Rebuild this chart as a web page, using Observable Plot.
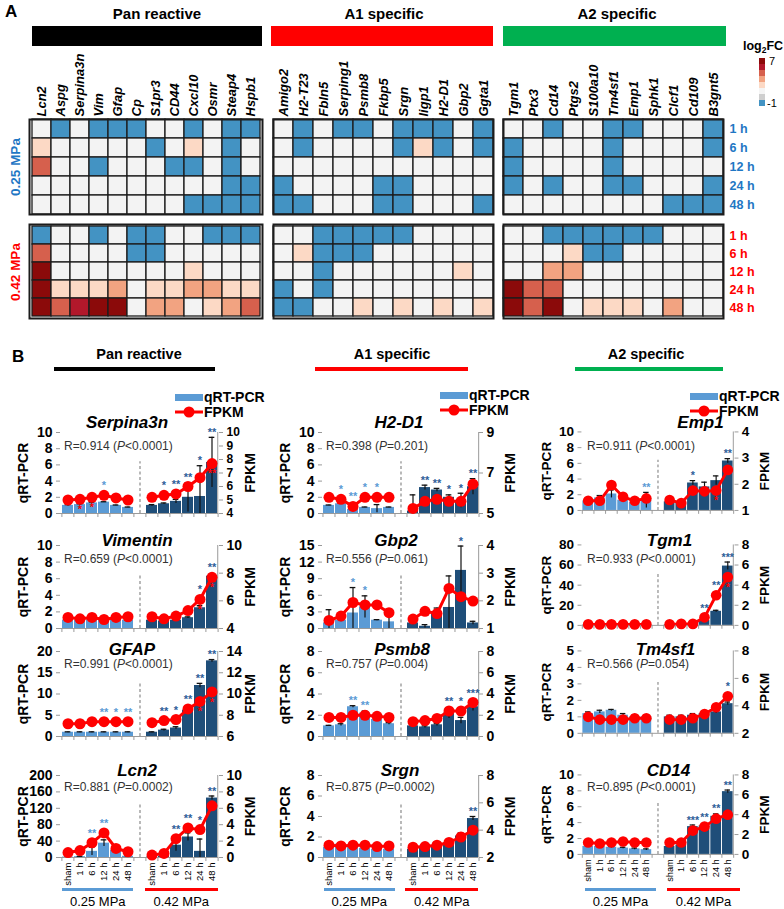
<!DOCTYPE html>
<html><head><meta charset="utf-8">
<script src="https://cdn.jsdelivr.net/npm/d3@7"></script>
<script src="https://cdn.jsdelivr.net/npm/@observablehq/plot@0.6"></script>
<style>
body{margin:0;background:#fff;font-family:"Liberation Sans",Arial,sans-serif}
#fig{position:relative;width:784px;height:909px;overflow:hidden;background:#fff}
#fig svg{overflow:visible}
.hm [aria-label="x-axis tick label"] text{font-size:13px;font-weight:bold;font-style:italic}
.hm [aria-label="y-axis tick label"] text{font-size:12.5px;font-weight:bold}
.bsub [aria-label="y-axis tick label"] text{font-weight:bold}
.bsub [aria-label="y-axis label"] text{font-size:14px;font-weight:bold}
.bsub [aria-label="x-axis tick label"] text{font-size:9.5px}
</style></head><body><div id="fig"></div>
<script>
// ---------- Panel A data ----------
const times = ["1 h","6 h","12 h","24 h","48 h"];
const panGenes = ["Lcn2","Aspg","Serpina3n","Vim","Gfap","Cp","S1pr3","CD44","Cxcl10","Osmr","Steap4","Hspb1"];
const a1Genes = ["Amigo2","H2-T23","Fbln5","Serping1","Psmb8","Fkbp5","Srgn","Iigp1","H2-D1","Gbp2","Ggta1"];
const a2Genes = ["Tgm1","Ptx3","Cd14","Ptgs2","S100a10","Tm4sf1","Emp1","Sphk1","Clcf1","Cd109","B3gnt5"];
const pan025 = [
 [0,-1,0,-1,-1,-1,0,0,-1,0,-1,-1],
 [1,0,0,0,0,0,-1,0,1,0,-1,0],
 [3,0,0,-1,0,0,0,-1,-1,0,-1,0],
 [0,0,0,0,0,0,0,0,0,0,-1,-1],
 [0,0,0,0,0,0,0,0,-1,-1,-1,-1]];
const pan042 = [
 [-1,0,0,-1,0,-1,-1,0,0,-1,-1,-1],
 [3,0,0,0,0,-1,-1,0,0,0,0,0],
 [7,0,0,0,0,0,0,0,1,0,0,0],
 [7,1,1,1,2,0,1,1,2,2,1,1],
 [7,3,5,7,7,0,2,2,0,1,2,3]];
const a1_025 = [
 [0,-1,0,-1,-1,0,-1,-1,-1,0,-1],
 [0,-1,0,0,0,0,-1,1,-1,0,-1],
 [0,0,0,0,0,0,0,0,0,0,0],
 [-1,0,0,0,0,-1,-1,0,0,0,0],
 [-1,-1,0,0,0,-1,-1,0,0,0,-1]];
const a1_042 = [
 [0,0,-1,-1,-1,-1,-1,0,0,0,0],
 [0,1,-1,-1,-1,0,0,0,0,0,0],
 [0,0,-1,0,0,0,0,0,0,1,0],
 [-1,0,-1,0,0,0,0,0,0,0,0],
 [-1,-1,0,0,1,0,1,0,1,0,1]];
const a2_025 = [
 [0,0,-1,0,0,-1,-1,0,0,0,-1],
 [-1,0,0,0,0,-1,0,0,0,0,-1],
 [-1,0,0,0,0,-1,0,0,0,0,0],
 [-1,0,-1,0,0,-1,-1,0,0,0,-1],
 [0,0,0,0,0,0,0,0,-1,-1,-1]];
const a2_042 = [
 [0,0,-1,-1,-1,-1,-1,-1,0,0,0],
 [0,0,0,1,-1,-1,0,0,0,0,0],
 [0,0,2,2,0,0,0,0,0,0,0],
 [7,3,3,0,0,0,0,0,0,0,0],
 [7,3,7,0,1,1,1,0,2,0,0]];
const heatColors = {"-1":"#4393c3","0":"#f3f3f3","1":"#fcd9c5","2":"#f2a381","3":"#d6604d","5":"#b2182b","7":"#8b0a0a"};
const legendLevels = ["7","5","3","2","1","0","-0.5","-1"];
const legendColors = {"7":"#8b0a0a","5":"#b2182b","3":"#d6604d","2":"#f2a381","1":"#fcd9c5","0":"#f5f5f5","-0.5":"#cfcfcf","-1":"#4393c3"};

// ---------- Panel B data ----------
const timeLabels = ["sham","1 h","6 h","12 h","24 h","48 h"];
const serpina3n_q = [1.0,1.1,1.3,1.4,1.0,0.75, 1.0,1.2,1.5,2.0,2.1,6.3];
const serpina3n_e = [0.1,0.1,0.1,0.05,0.05,0.05, 0.1,0.1,0.25,1.8,3.8,3.1];
const serpina3n_f = [5.0,5.05,5.2,5.35,5.15,5.0, 5.2,5.35,5.45,6.0,6.65,7.7];
const serpina3n_qs = ["","","","*","","", "","*","**","**","*","**"];
const serpina3n_fs = ["","*","*","","","", "","","","","","**"];
const vimentin_q = [1.0,1.0,1.05,1.0,1.0,1.0, 1.0,0.9,1.0,1.3,2.5,6.3];
const vimentin_e = [0.05,0.05,0.05,0.05,0.05,0.05, 0.05,0.05,0.05,0.1,0.25,0.3];
const vimentin_f = [4.8,4.7,4.8,4.65,4.8,4.85, 4.85,4.7,4.9,5.3,6.1,7.7];
const vimentin_qs = ["","","","","","", "","","","","*","**"];
const vimentin_fs = ["","","","","","", "","","","","*","*"];
const gfap_q = [1.0,1.0,1.0,1.0,1.0,1.0, 1.0,1.5,2.0,6.2,12.0,17.8];
const gfap_e = [0.1,0.1,0.1,0.1,0.1,0.1, 0.1,0.2,0.3,0.4,0.5,0.3];
const gfap_f = [7.2,7.2,7.4,7.4,7.4,7.4, 7.3,7.5,7.6,8.6,9.3,10.2];
const gfap_qs = ["","","","**","*","**", "","**","*","**","**","**"];
const gfap_fs = ["","","","","","", "","","","","*","*"];
const lcn2_q = [1,2,15,35,18,3, 1,3,30,50,15,145];
const lcn2_e = [1,1,10,8,5,1, 1,1,15,10,30,5];
const lcn2_f = [0.6,0.85,1.8,3.0,1.1,0.7, 0.3,0.5,2.3,3.6,3.4,6.3];
const lcn2_qs = ["","","**","**","","", "","","**","**","*","**"];
const lcn2_fs = ["","","","","","", "","","","","",""];
const h2d1_q = [1.0,1.2,0.5,0.75,0.6,0.75, 0.3,3.2,2.9,2.0,1.6,3.3];
const h2d1_e = [0.05,0.1,0.1,0.05,0.5,0.05, 2.0,0.3,0.2,0.3,0.9,1.0];
const h2d1_f = [5.8,5.7,5.35,5.8,5.8,5.8, 5.25,5.6,5.7,5.6,5.6,6.45];
const h2d1_qs = ["","*","**","*","*","", "","**","**","*","*","**"];
const h2d1_fs = ["","","","","","", "","","","","",""];
const gbp2_q = [1.0,1.5,2.8,3.9,1.5,1.2, 1.0,0.4,3.0,3.8,10.5,1.0];
const gbp2_e = [2.4,0.3,4.6,2.0,0.1,2.3, 0.3,0.3,0.7,5.7,4.4,0.3];
const gbp2_f = [1.29,1.45,1.94,1.85,1.85,1.57, 1.34,1.62,1.54,2.45,2.15,1.99];
const gbp2_qs = ["","","*","*","","", "","","","","*",""];
const gbp2_fs = ["","","","","","", "","","","","",""];
const psmb8_q = [1.0,1.1,2.8,2.2,1.6,1.2, 1.0,0.9,1.1,2.2,1.5,2.8];
const psmb8_e = [0.05,0.1,0.1,0.2,0.1,0.1, 0.1,0.1,0.1,0.5,0.3,0.4];
const psmb8_f = [1.8,1.8,2.0,2.0,1.9,1.8, 1.4,1.5,1.7,2.4,2.4,3.2];
const psmb8_qs = ["","","**","**","","", "","","","**","*","***"];
const psmb8_fs = ["","","","","","", "","","","","",""];
const srgn_q = [1.0,1.3,1.1,0.9,0.8,0.8, 0.8,0.9,1.1,1.4,2.1,3.8];
const srgn_e = [0.05,0.1,0.1,0.1,0.05,0.05, 0.2,0.1,0.1,0.2,0.3,0.2];
const srgn_f = [2.9,2.85,2.9,2.9,2.8,2.85, 2.75,2.8,2.9,3.1,3.5,4.0];
const srgn_qs = ["","","","","","", "","","","","","**"];
const srgn_fs = ["","","","","","", "","","","","",""];
const emp1_q = [1.2,1.6,2.1,1.3,1.0,1.3, 1.1,1.0,3.5,3.0,3.8,6.3];
const emp1_e = [0.1,0.3,0.5,0.2,0.1,1.0, 0.2,0.1,0.3,0.6,0.6,0.3];
const emp1_f = [1.37,1.37,1.97,1.52,1.37,1.46, 1.40,1.28,1.76,1.73,1.76,2.55];
const emp1_qs = ["","","","","","**", "","","*","","","**"];
const emp1_fs = ["","","","","","", "","","","","*",""];
const tgm1_q = [0.5,0.5,0.5,0.5,0.5,0.5, 0.5,0.5,0.5,5,14,59];
const tgm1_e = [0,0,0,0,0,0, 0,0,0,1,1,4];
const tgm1_f = [0.1,0.1,0.1,0.1,0.1,0.1, 0.1,0.15,0.15,0.8,3.0,4.8];
const tgm1_qs = ["","","","","","", "","","","**","**","***"];
const tgm1_fs = ["","","","","","", "","","","","","*"];
const tm4sf1_q = [1.2,1.3,1.4,1.1,1.0,1.0, 1.0,1.0,1.1,1.2,1.3,1.8];
const tm4sf1_e = [0.1,0.1,0.05,0.1,0.1,0.1, 0.1,0.1,0.1,0.1,0.1,0.1];
const tm4sf1_f = [3.2,3.0,3.0,3.0,3.1,3.1, 3.0,3.0,3.1,3.4,3.9,4.7];
const tm4sf1_qs = ["","","","","","", "","","","","","*"];
const tm4sf1_fs = ["","","","","","", "","","","","",""];
const cd14_q = [1.0,1.0,0.9,0.8,0.7,0.6, 1.0,1.2,3.5,3.6,4.8,7.9];
const cd14_e = [0.1,0.1,0.1,0.1,0.1,0.1, 0.1,0.1,0.2,0.2,0.3,0.2];
const cd14_f = [1.2,1.1,1.2,1.3,1.2,1.2, 1.2,1.2,2.4,2.8,3.6,4.0];
const cd14_qs = ["","","","","","", "","","***","**","**","**"];
const cd14_fs = ["","","","","","", "","","","","",""];

const geneNames = ["Serpina3n","Vimentin","GFAP","Lcn2","H2-D1","Gbp2","Psmb8","Srgn","Emp1","Tgm1","Tm4sf1","CD14"];
const rValues = ["0.914","0.659","0.991","0.881","0.398","0.556","0.757","0.875","0.911","0.933","0.566","0.895"];
const pValues = ["<0.0001","<0.0001","<0.0001","=0.0002","=0.201","=0.061","=0.004","=0.0002","<0.0001","<0.0001","=0.054","<0.0001"];
const qTickSets = [[0,2,4,6,8,10],[0,2,4,6,8,10],[0,5,10,15,20],[0,40,80,120,160,200],
  [0,2,4,6,8,10],[0,3,6,9,12,15],[0,2,4,6,8],[0,2,4,6,8],
  [0,2,4,6,8,10],[0,20,40,60,80],[0,1,2,3,4,5],[0,2,4,6,8,10]];
const fTickSets = [[4,5,6,7,8,9,10],[4,6,8,10],[6,8,10,12,14],[0,2,4,6,8,10],
  [5,7,9],[1,2,3,4],[0,2,4,6,8],[2,4,6,8],
  [1,2,3,4],[0,2,4,6,8],[2,4,6,8],[0,2,4,6,8]];

const genesB = [
 {q:serpina3n_q,e:serpina3n_e,f:serpina3n_f,qs:serpina3n_qs,fs:serpina3n_fs},
 {q:vimentin_q,e:vimentin_e,f:vimentin_f,qs:vimentin_qs,fs:vimentin_fs},
 {q:gfap_q,e:gfap_e,f:gfap_f,qs:gfap_qs,fs:gfap_fs},
 {q:lcn2_q,e:lcn2_e,f:lcn2_f,qs:lcn2_qs,fs:lcn2_fs},
 {q:h2d1_q,e:h2d1_e,f:h2d1_f,qs:h2d1_qs,fs:h2d1_fs},
 {q:gbp2_q,e:gbp2_e,f:gbp2_f,qs:gbp2_qs,fs:gbp2_fs},
 {q:psmb8_q,e:psmb8_e,f:psmb8_f,qs:psmb8_qs,fs:psmb8_fs},
 {q:srgn_q,e:srgn_e,f:srgn_f,qs:srgn_qs,fs:srgn_fs},
 {q:emp1_q,e:emp1_e,f:emp1_f,qs:emp1_qs,fs:emp1_fs},
 {q:tgm1_q,e:tgm1_e,f:tgm1_f,qs:tgm1_qs,fs:tgm1_fs},
 {q:tm4sf1_q,e:tm4sf1_e,f:tm4sf1_f,qs:tm4sf1_qs,fs:tm4sf1_fs},
 {q:cd14_q,e:cd14_e,f:cd14_f,qs:cd14_qs,fs:cd14_fs}
].map((g,i)=>({...g, name:geneNames[i], r:rValues[i], p:pValues[i], qTicks:qTickSets[i], fTicks:fTickSets[i]}));

// ---------- layout ----------
const fig = document.getElementById("fig");
const FONT = "Liberation Sans, Arial, sans-serif";
const BLUE = "#1f77c4", RED = "#ff0000";
function put(node, x, y, cls) {
  const w = document.createElement("div");
  if (cls) w.className = cls;
  w.style.cssText = `position:absolute;left:${x}px;top:${y}px`;
  w.appendChild(node); fig.appendChild(w); return w;
}
function txt(html, x, y, css, anchor) {
  const d = document.createElement("div");
  d.innerHTML = html;
  const tr = anchor === "l" ? "translate(0,-50%)" : anchor === "r" ? "translate(-100%,-50%)" :
             anchor === "rot" ? "translate(-50%,-50%) rotate(-90deg)" : "translate(-50%,-50%)";
  d.style.cssText = `position:absolute;left:${x}px;top:${y}px;white-space:nowrap;line-height:1;transform:${tr};` + css;
  fig.appendChild(d); return d;
}
function box(x, y, w, h, color) {
  const d = document.createElement("div");
  d.style.cssText = `position:absolute;left:${x}px;top:${y}px;width:${w}px;height:${h}px;background:${color}`;
  fig.appendChild(d);
}

// ---------- Panel A ----------
txt("A", 5, 11, "font-weight:bold;font-size:17px", "l");
txt("Pan reactive", 157, 13, "font-weight:bold;font-size:15px");
txt("A1 specific", 384, 13, "font-weight:bold;font-size:15px");
txt("A2 specific", 617, 13, "font-weight:bold;font-size:15px");
box(32, 26, 230, 20, "#000");
box(271, 26, 222, 20, "#ff0000");
box(503, 26, 223, 20, "#00b050");

function heat(genes, matrix, o) {
  const data = matrix.flatMap((row, ti) => row.map((v, gi) => ({gene: genes[gi], time: times[ti], v})));
  const mT = o.showGenes ? 84 : 2, mR = o.showTimes ? 52 : 2, mL = 2, mB = 2;
  const marks = [
    Plot.cell(data, {x: "gene", y: "time", fill: d => heatColors[d.v], stroke: "#1c1c1c", strokeWidth: 1.3}),
    Plot.frame({stroke: "#1c1c1c", strokeWidth: 2})
  ];
  if (o.showGenes) marks.push(Plot.axisX({anchor: "top", tickRotate: -90, tickSize: 0, tickPadding: 3, label: null}));
  if (o.showTimes) marks.push(Plot.axisY({anchor: "right", tickSize: 0, tickPadding: 6, label: null, color: o.timeColor}));
  const svg = Plot.plot({
    width: mL + o.width + mR, height: mT + o.height + mB,
    marginLeft: mL, marginRight: mR, marginTop: mT, marginBottom: mB,
    x: {domain: genes, padding: 0, axis: null}, y: {domain: times, padding: 0, axis: null},
    style: {fontFamily: FONT, background: "transparent", color: "#000"},
    marks
  });
  put(svg, o.left - mL, o.top - mT, "hm");
}
const hTop1 = 119, hTop2 = 224, hH1 = 95, hH2 = 94;
heat(panGenes, pan025, {left: 29, top: hTop1, width: 233, height: hH1, showGenes: true});
heat(panGenes, pan042, {left: 29, top: hTop2, width: 233, height: hH2});
heat(a1Genes, a1_025, {left: 273, top: hTop1, width: 220, height: hH1, showGenes: true});
heat(a1Genes, a1_042, {left: 273, top: hTop2, width: 220, height: hH2});
heat(a2Genes, a2_025, {left: 503, top: hTop1, width: 220, height: hH1, showGenes: true, showTimes: true, timeColor: BLUE});
heat(a2Genes, a2_042, {left: 503, top: hTop2, width: 220, height: hH2, showTimes: true, timeColor: RED});
txt("0.25 MPa", 16, 167, `font-weight:bold;font-size:13.5px;color:${BLUE}`, "rot");
txt("0.42 MPa", 16, 272, `font-weight:bold;font-size:13.5px;color:${RED}`, "rot");

// colour legend
txt("log<sub style='font-size:8.5px'>2</sub>FC", 743, 47, "font-weight:bold;font-size:12.5px", "l");
put(Plot.plot({
  width: 8, height: 50, margin: 0,
  x: {axis: null}, y: {domain: legendLevels, padding: 0, axis: null},
  style: {background: "transparent"},
  marks: [Plot.cell(legendLevels, {x: () => 0, y: d => d, fill: d => legendColors[d]})]
}), 758, 57);
txt("7", 769, 61, "font-size:11px", "l");
txt("-1", 767, 103, "font-size:11px", "l");

// ---------- Panel B ----------
txt("B", 12, 356, "font-weight:bold;font-size:17px", "l");
txt("Pan reactive", 139, 354, "font-weight:bold;font-size:14.5px");
txt("A1 specific", 392, 354, "font-weight:bold;font-size:14.5px");
txt("A2 specific", 646, 354, "font-weight:bold;font-size:14.5px");
box(54, 367, 161, 3.5, "#000");
box(315, 367, 153, 3.5, "#ff0000");
box(575, 367, 148, 3.5, "#00b050");

function legendB(x, y) {
  const d = document.createElement("div");
  d.style.cssText = `position:absolute;left:${x}px;top:${y - 8}px;width:100px;height:34px`;
  d.innerHTML = `<svg width="30" height="32" style="position:absolute;left:0;top:0">
    <rect x="0" y="5" width="28" height="7" fill="#5b9bd5"/>
    <line x1="0" y1="23" x2="28" y2="23" stroke="#ff0000" stroke-width="3"/>
    <circle cx="14" cy="23" r="5.5" fill="#ff0000"/></svg>
    <div style="position:absolute;left:29px;top:1px;font-weight:bold;font-size:14px;line-height:1">qRT-PCR</div>
    <div style="position:absolute;left:29px;top:16px;font-weight:bold;font-size:14px;line-height:1">FPKM</div>`;
  fig.appendChild(d);
}
legendB(175, 397); legendB(440, 395); legendB(690, 396);

const colsB = [{left: 60, width: 158}, {left: 322, width: 156}, {left: 583, width: 157}];
const rowsB = [{top: 432, bottom: 513, tdy: -10, rdy: 14}, {top: 545, bottom: 628, tdy: -5, rdy: 14},
               {top: 651, bottom: 736, tdy: -2, rdy: 13}, {top: 775, bottom: 857, tdy: -5, rdy: 12}];
const titleDx = [-12, -2, -7, -2, -1, -4, 2, 0, 39, 8, 4, 7];
const keys = ["L0","L1","L2","L3","L4","L5","G","R0","R1","R2","R3","R4","R5"];
const barKeys = keys.filter(k => k !== "G");
const qColorL = "#5b9bd5", qColorR = "#1f4e79", starL = "#5b9bd5", starR = "#2e6099";

function subplot(g, idx) {
  const ci = Math.floor(idx / 4), ri = idx % 4;
  const col = colsB[ci], row = rowsB[ri];
  const W = col.width, H = row.bottom - row.top;
  const isBottom = ri === 3;
  const mL = 52, mR = 52, mT = 18, mB = isBottom ? 36 : 8;
  const qmax = g.qTicks[g.qTicks.length - 1];
  const fmin = g.fTicks[0], fmax = g.fTicks[g.fTicks.length - 1];
  const toQ = f => (f - fmin) / (fmax - fmin) * qmax;
  const toF = v => fmin + v / qmax * (fmax - fmin);
  const u = qmax / H;
  const data = barKeys.map((k, i) => ({key: k, group: i < 6 ? "L" : "R", q: g.q[i], e: g.e[i], fq: toQ(g.f[i]), qs: g.qs[i], fs: g.fs[i]}));
  const pi = 0.12, po = 0.03;
  const step = W / (keys.length - pi + 2 * po);
  const edge = step * (1 - pi) / 2 + step * po;
  const withErr = data.filter(d => d.e > 0);
  const leftFont = H / (g.qTicks.length - 1) < 15 ? 12 : 14;
  const rightFont = H / (g.fTicks.length - 1) < 15 ? 12 : 14;
  const marks = [
    Plot.barY(data, {x: "key", y: "q", fill: d => d.group === "L" ? qColorL : qColorR}),
    Plot.ruleX(withErr, {x: "key", y1: d => Math.max(0, d.q - d.e), y2: d => d.q + d.e, stroke: "#111", strokeWidth: 1.2}),
    Plot.tickY(withErr, {x: "key", y: d => d.q + d.e, stroke: "#111", strokeWidth: 1.3, inset: step * 0.22}),
    Plot.ruleY([0], {stroke: "#9a9a9a", strokeWidth: 1}),
    Plot.ruleX(["G"], {y1: 0, y2: qmax * 0.64, stroke: "#8a8a8a", strokeDasharray: "3,2.5", strokeWidth: 1.2}),
    Plot.ruleX(["R5"], {y1: 0, y2: qmax, dx: edge, stroke: "#9a9a9a"}),
    Plot.line(data, {x: "key", y: "fq", z: "group", stroke: "#ff0000", strokeWidth: 3}),
    Plot.dot(data, {x: "key", y: "fq", r: 5.5, fill: "#ff0000"}),
    Plot.text(data.filter(d => d.qs), {x: "key", y: d => Math.max(d.q + d.e + 1.5 * u, d.fq + 6 * u), text: "qs",
      fill: d => d.group === "L" ? starL : starR, fontSize: 11, fontWeight: "bold", lineAnchor: "bottom"}),
    Plot.text(data.filter(d => d.fs), {x: "key", y: d => d.fq - 6 * u, text: "fs", fill: "#ff0000", fontSize: 11, fontWeight: "bold", lineAnchor: "top"}),
    Plot.axisY(g.qTicks, {anchor: "left", tickSize: 4, tickPadding: 4, stroke: "#999", fontSize: leftFont,
      label: "qRT-PCR", labelAnchor: "center", labelOffset: 42, labelArrow: "none"}),
    Plot.axisY(g.fTicks.map(toQ), {anchor: "right", tickSize: 4, tickPadding: 4, stroke: "#999", fontSize: rightFont,
      tickFormat: v => String(Math.round(toF(v) * 100) / 100), label: "FPKM", labelAnchor: "center", labelOffset: 36, labelArrow: "none"}),
    Plot.axisX(keys, {anchor: "bottom", tickSize: 4, tickFormat: () => "", dx: -step / 2, stroke: "#999", label: null}),
    Plot.axisX(["R5"], {anchor: "bottom", tickSize: 4, tickFormat: () => "", dx: step / 2, stroke: "#999", label: null})
  ];
  if (isBottom) marks.push(Plot.axisX(keys, {anchor: "bottom", tickSize: 0, tickPadding: 5, tickRotate: -90,
    tickFormat: k => k === "G" ? "" : timeLabels[+k.slice(1)], label: null}));
  const svg = Plot.plot({
    width: mL + W + mR, height: mT + H + mB,
    marginLeft: mL, marginRight: mR, marginTop: mT, marginBottom: mB,
    x: {type: "band", domain: keys, paddingInner: pi, paddingOuter: po, axis: null},
    y: {domain: [0, qmax], axis: null},
    style: {fontFamily: FONT, fontSize: "14px", background: "transparent", color: "#000"},
    marks
  });
  put(svg, col.left - mL, row.top - mT, "bsub");
  txt(g.name, col.left + W / 2 + titleDx[idx], row.top + row.tdy, "font-weight:bold;font-style:italic;font-size:17px");
  txt(`R=${g.r} (<i>P</i>${g.p.replace("<", "&lt;")})`, col.left + 4, row.top + row.rdy, "font-size:12px;color:#333", "l");
  if (isBottom) {
    const bx1 = col.left + 2, bx2 = col.left + W * 0.465, rx1 = col.left + W * 0.535, rx2 = col.left + W;
    box(bx1, 888, bx2 - bx1, 2.5, "#5b9bd5");
    box(rx1, 888, rx2 - rx1, 2.5, "#ff0000");
    txt("0.25 MPa", (bx1 + bx2) / 2, 901, "font-size:13px");
    txt("0.42 MPa", (rx1 + rx2) / 2, 901, "font-size:13px");
  }
}
genesB.forEach((g, i) => subplot(g, i));
</script></body></html>
